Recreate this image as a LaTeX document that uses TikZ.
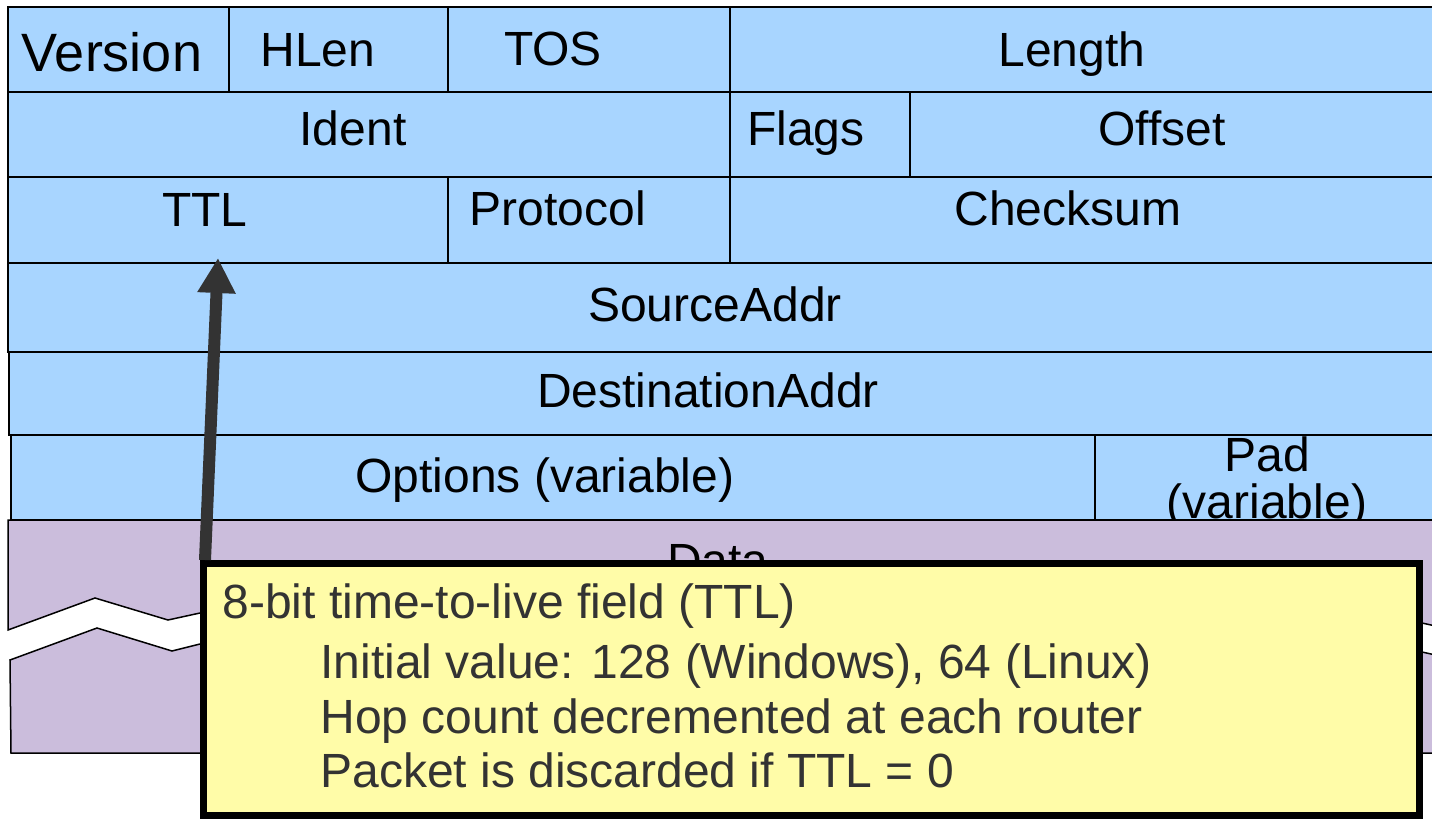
\documentclass[tikz,border=0pt]{standalone}
\usepackage{fontspec}
\setmainfont{Liberation Sans}
\usepackage{xcolor}
\usetikzlibrary{arrows.meta}

\definecolor{hdrblue}{RGB}{168,213,255}
\definecolor{datapurple}{RGB}{203,189,220}
\definecolor{noteyellow}{RGB}{255,252,168}
\definecolor{notegray}{RGB}{51,51,51}

\tikzset{
	field/.style={draw=black, fill=hdrblue, line width=0.75pt},
	fieldname/.style={anchor=base, inner sep=0pt, font=\fontsize{24}{23.5}\selectfont},
	notebox/.style={draw=black, fill=noteyellow, line width=3.5pt},
	noteline/.style={anchor=base west, inner sep=0pt, text=notegray, font=\fontsize{24}{27.5}\selectfont},
	pointer/.style={draw=notegray, line width=6pt, -{Triangle[width=18pt,length=17.5pt]}}
}

\begin{document}
\begin{tikzpicture}[x=0.5pt,y=-0.5pt]
				\useasboundingbox (0,0) rectangle (1432,819);
				\clip (0,0) rectangle (1432,819);

				% header rows
				\filldraw[field] (8,7) rectangle (229,92);
				\filldraw[field] (229,7) rectangle (448,92);
				\filldraw[field] (448,7) rectangle (730,92);
				\filldraw[field] (730,7) rectangle (1440,92);
				\filldraw[field] (8,92) rectangle (730,177);
				\filldraw[field] (730,92) rectangle (910,177);
				\filldraw[field] (910,92) rectangle (1440,177);
				\filldraw[field] (8,177) rectangle (448,263);
				\filldraw[field] (448,177) rectangle (730,263);
				\filldraw[field] (730,177) rectangle (1440,263);
				\draw[line width=0.75pt] (730,263) -- (730,267);
				\filldraw[field] (8,263) rectangle (1440,352);
				\filldraw[field] (9,352) rectangle (1440,435);
				\filldraw[field] (11,435) rectangle (1095,520);
				\filldraw[field] (1095,435) rectangle (1440,520);

				\node[fieldname, font=\fontsize{27}{27}\selectfont] (version) at (112,71) {Version};
				\node[fieldname] (hlen) at (318,66) {HLen};
				\node[fieldname] (tos) at (553,65) {TOS};
				\node[fieldname] (length) at (1072,66) {Length};
				\node[fieldname] (ident) at (353,145) {Ident};
				\node[fieldname] (flags) at (806,145) {Flags};
				\node[fieldname] (offset) at (1162,145) {Offset};
				\node[fieldname] (ttl) at (205,226) {TTL};
				\node[fieldname] (protocol) at (558,225) {Protocol};
				\node[fieldname] (checksum) at (1068,225) {Checksum};
				\node[fieldname] (srcaddr) at (715,321) {SourceAddr};
				\node[fieldname] (dstaddr) at (708,407) {DestinationAddr};
				\node[fieldname] (options) at (545,492) {Options (variable)};
				\node[fieldname, anchor=north, align=center] (pad) at (1267,436) {Pad\\(variable)};

				% data, with a break
				\fill[datapurple] (8,520) -- (1440,520) -- (1440,627) -- (1422,623) -- (200,613) -- (168,620) -- (95,598) -- (8,630) -- cycle;
				\draw[line width=0.75pt] (1440,520) -- (8,520) -- (8,630) -- (95,598) -- (168,620) -- (200,613) -- (1422,623) -- (1440,627);
				\fill[datapurple] (10,660) -- (97,628) -- (172,651) -- (200,644) -- (1422,652) -- (1440,656) -- (1440,753) -- (11,753) -- cycle;
				\draw[line width=0.75pt] (1440,656) -- (1422,652) -- (200,644) -- (172,651) -- (97,628) -- (10,660) -- (11,753) -- (1440,753);
				\node[fieldname] (data) at (718,577) {Data};

				% note on the TTL field
				\filldraw[notebox] (203.5,563.5) rectangle (1419.5,815.5);
				\node[noteline] (note1) at (222,618) {8-bit time-to-live field (TTL)};
				\node[noteline] (note2) at (320,678) {Initial value: 128 (Windows), 64 (Linux)};
				\node[noteline] (note3) at (320,733) {Hop count decremented at each router};
				\node[noteline] (note4) at (320,787) {Packet is discarded if TTL = 0};

				\coordinate (tail) at (205,560);
				\coordinate (tip) at (218,258);
				\draw[pointer] (tail) -- (tip);
			\end{tikzpicture}
\end{document}
